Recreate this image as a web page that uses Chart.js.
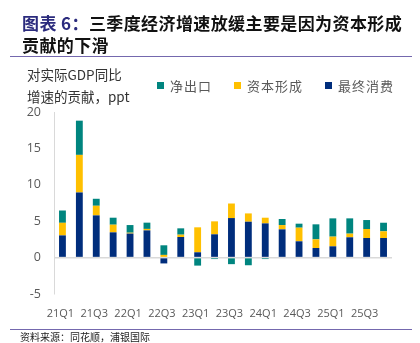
<!DOCTYPE html>
<html>
<head>
<meta charset="utf-8">
<script src="https://cdn.jsdelivr.net/npm/chart.js@4"></script>
<style>
  html, body { margin: 0; padding: 0; background: #fff; }
  #wrap { position: relative; width: 420px; height: 343px; overflow: hidden; font-family: "Noto Sans CJK SC", sans-serif; }
  #chart { position: absolute; left: 0; top: 0; }
  .title { position: absolute; left: 22px; font-size: 17px; font-weight: 700; color: #111; line-height: 22px; white-space: nowrap; letter-spacing: 0.4px; }
  .title .lead { color: #2B2B7D; }
  .rule { position: absolute; left: 10px; width: 402px; height: 0; border-top: 1.5px solid #7468AE; }
  .ytitle { position: absolute; left: 27px; font-size: 13.5px; color: #333; line-height: 22px; white-space: nowrap; }
  #legend { position: absolute; top: 76px; left: 157px; display: flex; font-size: 13px; color: #595959; white-space: nowrap; letter-spacing: 1px; }
  #legend .item { display: flex; align-items: center; margin-right: 22px; }
  #legend .box { width: 7px; height: 7px; margin-right: 6px; }
  .source { position: absolute; left: 20px; top: 329px; font-size: 10px; color: #222; line-height: 14px; white-space: nowrap; }
</style>
</head>
<body>
<div id="wrap">
  <canvas id="chart" width="420" height="343"></canvas>
  <div class="title" style="top:12px"><span class="lead">图表 6：</span>三季度经济增速放缓主要是因为资本形成</div>
  <div class="title" style="top:34px">贡献的下滑</div>
  <div class="rule" style="top:56px"></div>
  <div class="ytitle" style="top:63px">对实际GDP同比</div>
  <div class="ytitle" style="top:85px">增速的贡献，ppt</div>
  <div id="legend"></div>
  <div class="rule" style="top:329px"></div>
  <div class="source" style="top:330px">资料来源：同花顺，浦银国际</div>
</div>
<script>
// quarters as labelled on the picture (every other one shown)
const quarters = ['21Q1','21Q2','21Q3','21Q4','22Q1','22Q2','22Q3','22Q4','23Q1','23Q2',
                  '23Q3','23Q4','24Q1','24Q2','24Q3','24Q4','25Q1','25Q2','25Q3','25Q4'];

// contribution to real GDP y/y growth, ppt
const consumption = [3.05, 8.95, 5.8, 3.47, 3.3, 3.74, -0.8, 2.83, 0.73, 3.2,
                     5.43, 4.93, 4.7, 3.88, 2.24, 1.32, 1.55, 2.79, 2.69, 2.69];
const capital     = [1.73, 5.16, 1.32, 1.05, 0.12, 0.2, 0.37, 0.32, 3.43, 1.78,
                     2.0, 1.14, 0.78, 0.59, 1.87, 1.19, 1.33, 0.5, 1.24, 0.92];
const netExport   = [1.69, 4.7, 0.96, 0.96, 1.05, 0.86, 1.32, 0.87, -1.1, -0.2,
                     -0.9, -1.05, -0.2, 0.83, 0.55, 2.06, 2.51, 2.1, 1.23, 1.18];

const yTicks = [-5, 0, 5, 10, 15, 20];

const seriesNames = ['净出口', '资本形成', '最终消费'];
const colors = { '净出口': '#00857F', '资本形成': '#FFC000', '最终消费': '#002D7C' };

// legend (same order as picture)
const legend = document.getElementById('legend');
seriesNames.forEach(function (name) {
  legend.innerHTML += '<div class="item"><div class="box" style="background:' + colors[name] + '"></div>' + name + '</div>';
});

const ctx = document.getElementById('chart').getContext('2d');
const myChart = new Chart(ctx, {
  type: 'bar',
  data: {
    labels: quarters,
    datasets: [
      { label: '最终消费', data: consumption, backgroundColor: colors['最终消费'] },
      { label: '资本形成', data: capital, backgroundColor: colors['资本形成'] },
      { label: '净出口', data: netExport, backgroundColor: colors['净出口'] }
    ]
  },
  options: {
    responsive: false,
    animation: false,
    layout: { padding: { top: 112, right: 28, left: 0, bottom: 0 } },
    datasets: { bar: { barPercentage: 0.45, categoryPercentage: 0.9 } },
    plugins: { legend: { display: false }, tooltip: { enabled: false } },
    scales: {
      x: {
        stacked: true,
        grid: { display: false, drawTicks: false },
        border: { display: false },
        afterFit: function (s) { s.height = 49; },
        ticks: {
          autoSkip: false,
          maxRotation: 0,
          padding: 13,
          labelOffset: -2,
          color: '#595959',
          font: { family: 'Open Sans', size: 11 },
          callback: function (v, i) { return i % 2 === 0 ? quarters[i] : ''; }
        }
      },
      y: {
        stacked: true,
        min: yTicks[0],
        max: yTicks[yTicks.length - 1],
        afterFit: function (s) { s.width = 54; },
        afterBuildTicks: function (s) { s.ticks = yTicks.map(function (v) { return { value: v }; }); },
        grid: {
          drawTicks: false,
          lineWidth: 1.5,
          color: function (c) { return c.tick && c.tick.value === 0 ? '#D9D9D9' : 'rgba(0,0,0,0)'; }
        },
        border: { display: true, color: '#D9D9D9' },
        ticks: {
          padding: 13,
          color: '#595959',
          font: { family: 'Open Sans', size: 12.5 }
        }
      }
    }
  }
});
</script>
</body>
</html>
